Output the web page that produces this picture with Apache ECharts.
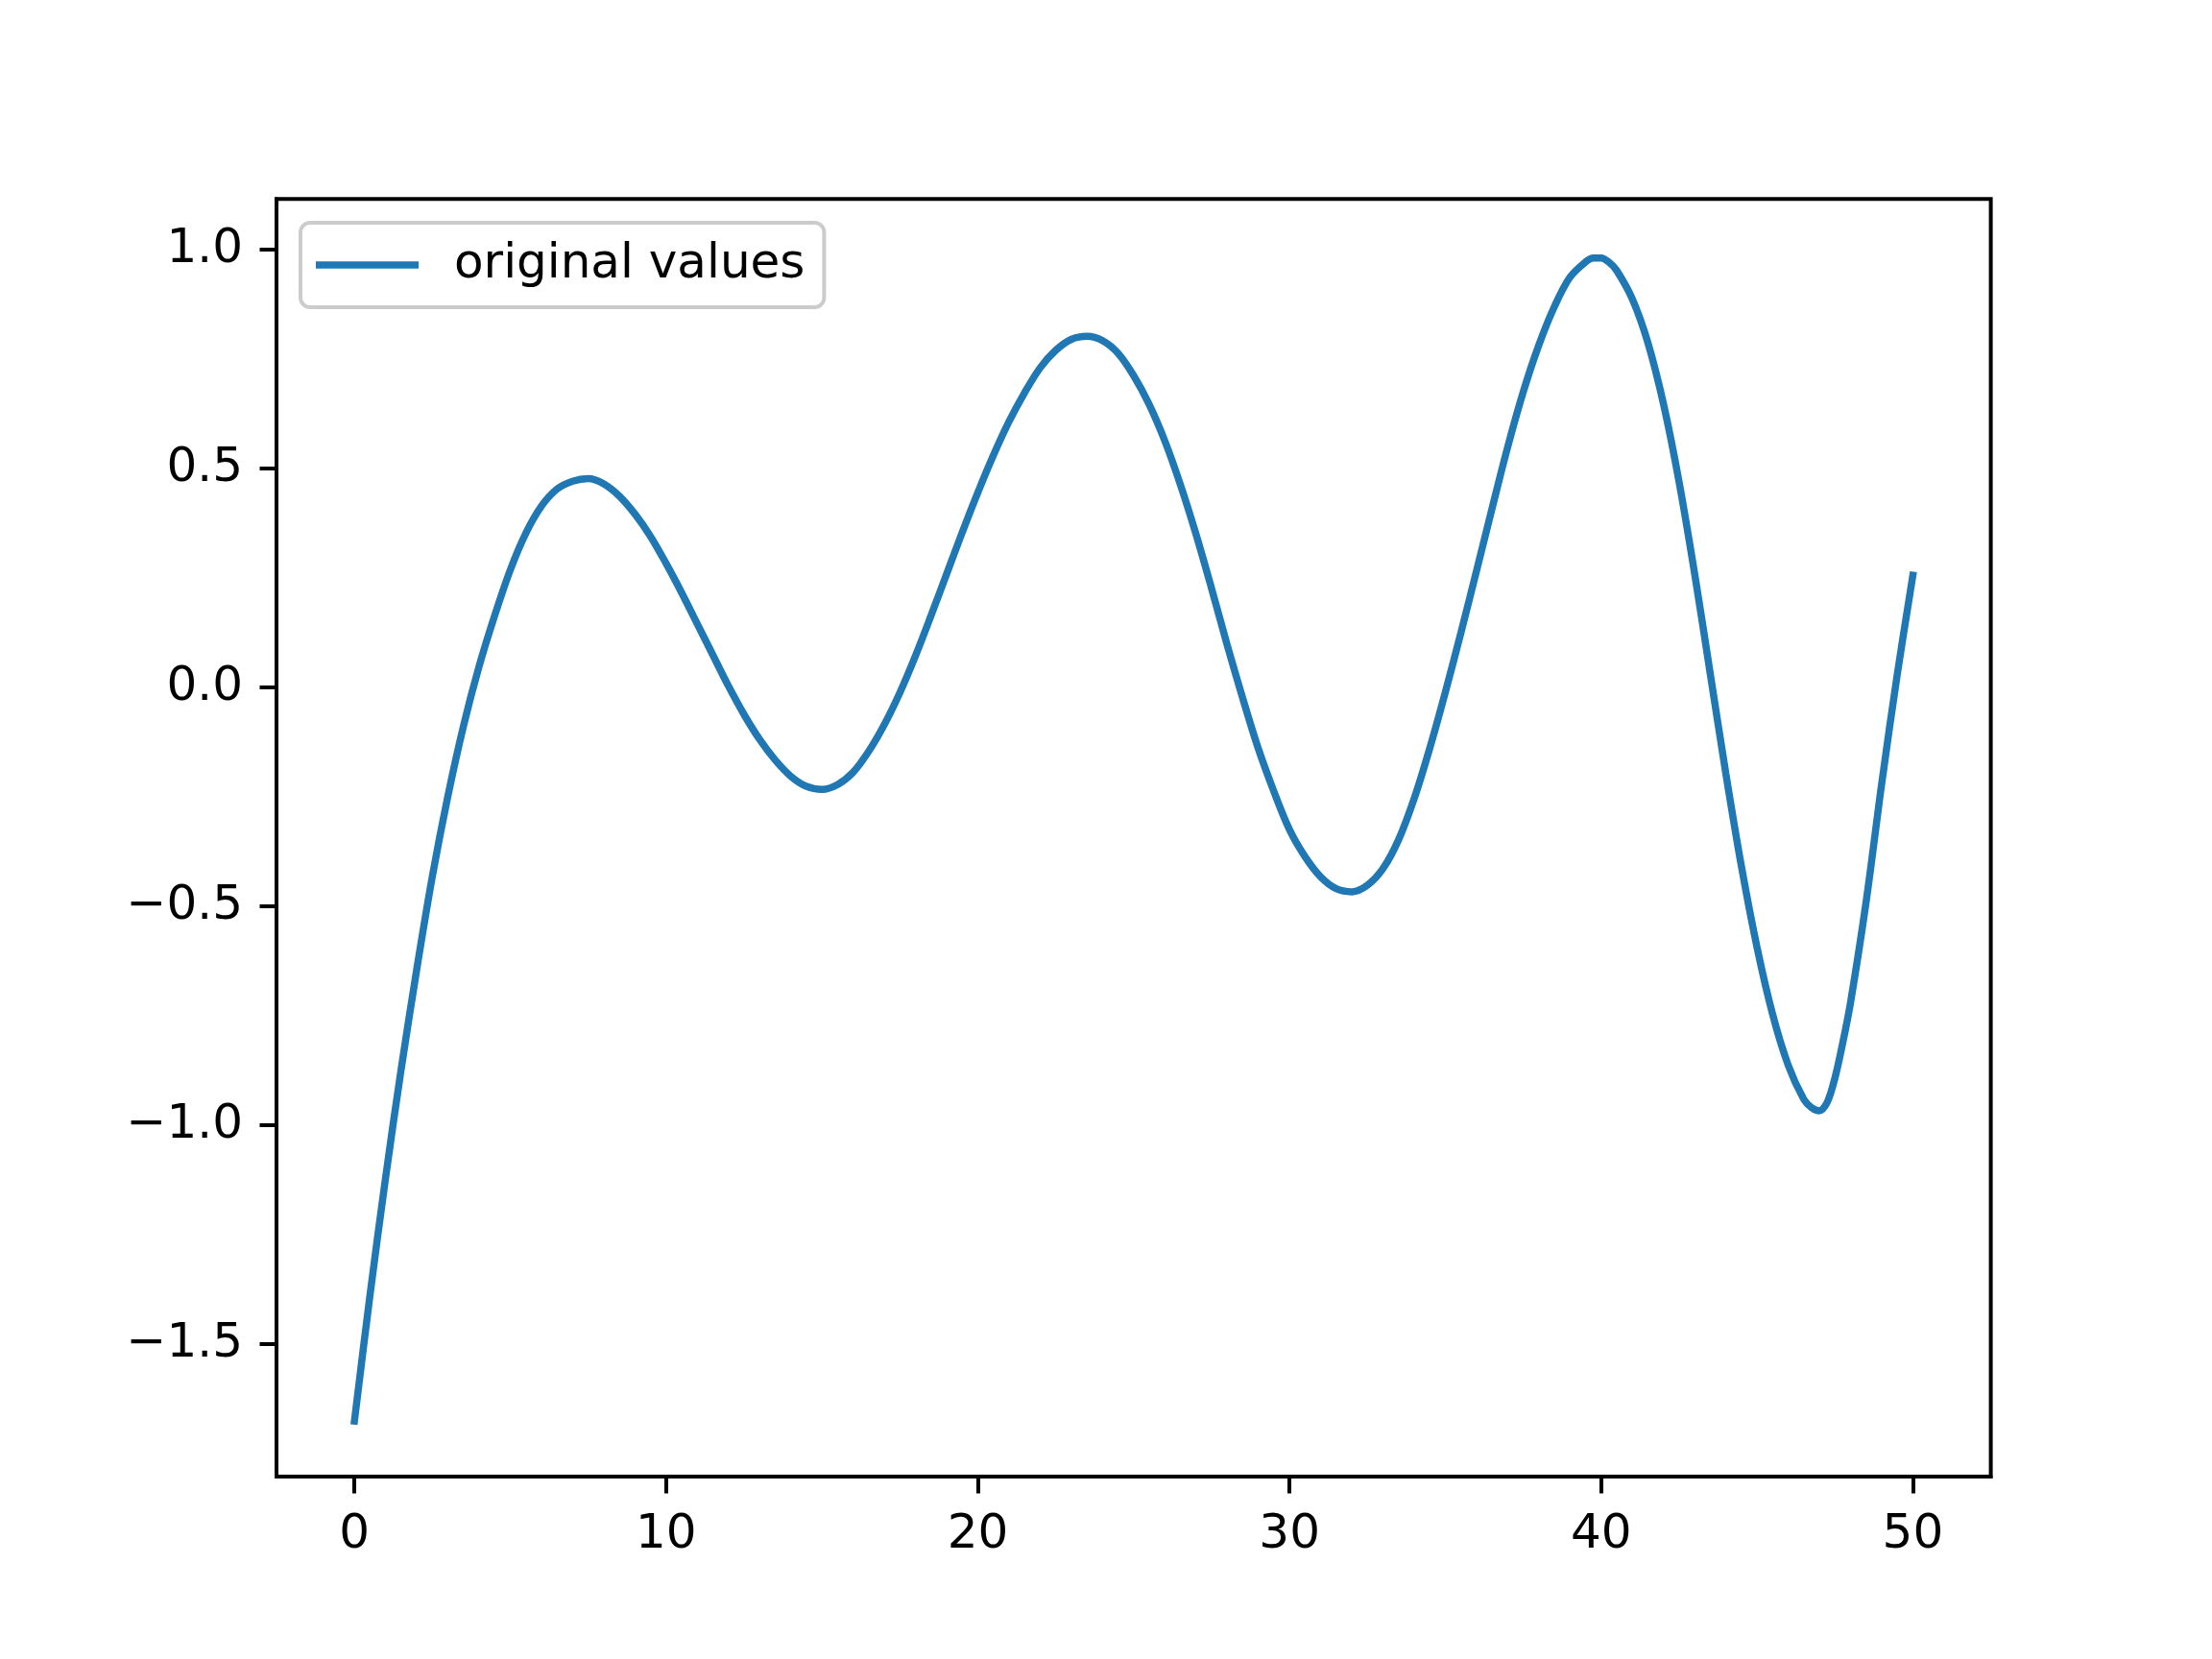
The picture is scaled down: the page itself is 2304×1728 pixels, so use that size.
<!DOCTYPE html>
<html>
<head>
<meta charset="utf-8">
<script src="https://cdn.jsdelivr.net/npm/echarts@6/dist/echarts.min.js"></script>
<style>
  html, body { margin: 0; padding: 0; background: #ffffff; }
  #chart { width: 2304px; height: 1728px; }
</style>
</head>
<body>
<div id="chart"></div>
<script>
// x positions where the curve was read
const xValues = [0, 0.5, 1, 1.5, 2, 2.5, 3, 3.5, 4, 4.5, 5, 5.5, 6, 6.5, 7, 7.5, 8, 8.5, 9, 9.5,
  10, 10.5, 11, 11.5, 12, 12.5, 13, 13.5, 14, 14.5, 15, 15.5, 16, 16.5, 17, 17.5, 18, 18.5, 19, 19.5,
  20, 20.5, 21, 21.5, 22, 22.5, 23, 23.5, 24, 24.5, 25, 25.5, 26, 26.5, 27, 27.5, 28, 28.5, 29, 29.5,
  30, 30.5, 31, 31.5, 32, 32.5, 33, 33.5, 34, 34.5, 35, 35.5, 36, 36.5, 37, 37.5, 38, 38.5, 39, 39.5,
  39.75, 40, 40.25, 40.5, 41, 41.5, 42, 42.5, 43, 43.5, 44, 44.5, 45, 45.5, 46, 46.5, 46.75, 47, 47.25,
  47.5, 47.75, 48, 48.5, 49, 49.5, 50];
// values of "original values"
const originalValues = [-1.676, -1.388, -1.120, -0.872, -0.644, -0.432, -0.248, -0.088, 0.048, 0.164,
  0.268, 0.352, 0.414, 0.453, 0.471, 0.477, 0.465, 0.437, 0.396, 0.345,
  0.283, 0.216, 0.145, 0.074, 0.003, -0.062, -0.119, -0.166, -0.203, -0.226,
  -0.233, -0.222, -0.194, -0.146, -0.085, -0.012, 0.072, 0.164, 0.259, 0.354,
  0.445, 0.530, 0.607, 0.673, 0.730, 0.770, 0.795, 0.802, 0.792, 0.763,
  0.712, 0.646, 0.563, 0.463, 0.350, 0.226, 0.097, -0.025, -0.140, -0.238,
  -0.325, -0.387, -0.433, -0.460, -0.467, -0.452, -0.414, -0.348, -0.254, -0.139,
  -0.011, 0.125, 0.266, 0.409, 0.549, 0.675, 0.782, 0.870, 0.937, 0.972,
  0.981, 0.981, 0.971, 0.952, 0.887, 0.787, 0.647, 0.469, 0.259, 0.031,
  -0.197, -0.409, -0.594, -0.747, -0.863, -0.941, -0.960, -0.967, -0.948,
  -0.892, -0.812, -0.720, -0.490, -0.220, 0.030, 0.256];
const xTicks = [0, 10, 20, 30, 40, 50];
const yTicks = [-1.5, -1.0, -0.5, 0.0, 0.5, 1.0];
const seriesName = 'original values';

const FONT = 'DejaVu Sans';
const chart = echarts.init(document.getElementById('chart'), null, { renderer: 'canvas' });
const fmtY = v => v.toFixed(1).replace('-', '\u2212');
const fmtX = v => String(Math.round(v)).replace('-', '\u2212');

chart.setOption({
  backgroundColor: '#ffffff',
  animation: false,
  grid: {
    left: 288, right: 230.4, top: 207.36, bottom: 190.08,
    show: true, borderColor: '#000000', borderWidth: 4, backgroundColor: 'transparent'
  },
  legend: {
    left: 313, top: 232,
    padding: [19, 20, 19, 16],
    borderColor: '#cccccc', borderWidth: 4, borderRadius: 10,
    backgroundColor: 'rgba(255,255,255,0.8)',
    icon: 'rect', itemWidth: 107, itemHeight: 7.5,
    textStyle: { fontSize: 50, fontFamily: FONT, color: '#000000', padding: [0, 0, 0, 32], lineHeight: 50 },
    data: [seriesName]
  },
  xAxis: {
    type: 'value', min: -2.5, max: 52.5,
    axisLine: { show: true, onZero: false, lineStyle: { color: '#000000', width: 4 } },
    axisTick: { show: true, inside: false, length: 17.5, lineStyle: { color: '#000000', width: 4 }, customValues: xTicks },
    axisLabel: { show: true, margin: 36, fontSize: 50, fontFamily: FONT, color: '#000000', customValues: xTicks, formatter: fmtX },
    splitLine: { show: false }
  },
  yAxis: {
    type: 'value', min: -1.8026, max: 1.1154,
    axisLine: { show: true, onZero: false, lineStyle: { color: '#000000', width: 4 } },
    axisTick: { show: true, inside: false, length: 17.5, lineStyle: { color: '#000000', width: 4 }, customValues: yTicks },
    axisLabel: { show: true, margin: 35, fontSize: 50, fontFamily: FONT, color: '#000000', customValues: yTicks, formatter: fmtY },
    splitLine: { show: false }
  },
  series: [{
    name: seriesName,
    type: 'line',
    data: xValues.map((x, i) => [x, originalValues[i]]),
    symbol: 'none',
    smooth: 0.33,
    lineStyle: { color: '#1f77b4', width: 7.5, cap: 'square' },
    itemStyle: { color: '#1f77b4' }
  }]
});
</script>
</body>
</html>
